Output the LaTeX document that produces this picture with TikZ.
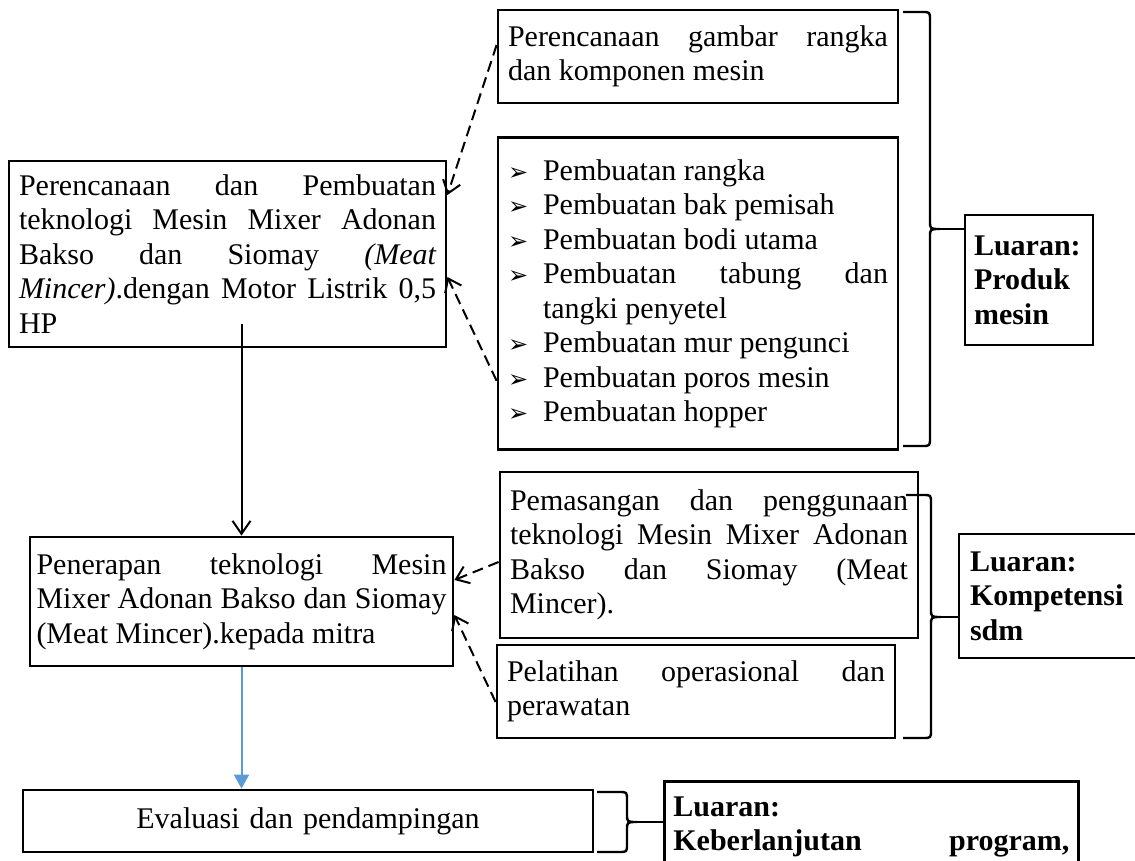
\documentclass[tikz,border=0pt]{standalone}
\usepackage{fontspec}
\setmainfont{Liberation Serif}
\newfontfamily\dejavu{DejaVu Sans}
\usetikzlibrary{positioning,arrows.meta,calc}
\definecolor{panahbiru}{HTML}{5B9BD5}
\setlength{\parindent}{0pt}
\newcommand\butir{\noindent\makebox[17.5pt][l]{{\dejavu\fontsize{12}{12}\selectfont ➢}}}
\tikzset{
  kotak/.style={draw, line width=1.4pt, inner xsep=5pt, inner ysep=0pt, align=justify,
                font=\fontsize{15}{17.25}\selectfont},
  luaran/.style={kotak, align=left, font=\fontsize{15}{17.25}\selectfont\bfseries},
  putus/.style={-{Straight Barb[length=6pt,width=9pt]}, dash pattern=on 5.5pt off 3pt, line width=1pt},
  panah/.style={-{Straight Barb[length=6.5pt,width=9pt]}, line width=1pt},
  biru/.style={-{Triangle[length=7pt,width=7.5pt]}, draw=panahbiru, line width=1pt},
  kurung/.style={line width=1.2pt, line join=round}
}
\begin{document}
\begin{tikzpicture}[x=0.5pt, y=-0.5pt]
\useasboundingbox (0,0) rectangle (1135,861);
\clip (0,0) rectangle (1135,861);
% kolom kiri
\node[kotak, text width=208.5pt, minimum height=93pt] (rencana) at (227.5,254)
  {Perencanaan dan Pembuatan\linebreak teknologi Mesin Mixer Adonan\linebreak Bakso dan Siomay \textit{(Meat\linebreak Mincer)}.dengan Motor Listrik 0,5\linebreak HP};
\node[kotak, text width=205pt, inner xsep=3.25pt, minimum height=64.5pt] (terap) at (241.5,601.5)
  {Penerapan teknologi Mesin\linebreak Mixer Adonan Bakso dan Siomay\linebreak (Meat Mincer).kepada mitra};
\node[kotak, align=center, text width=275pt, minimum height=31pt] (evaluasi) at (308,821)
  {Evaluasi dan pendampingan};
% kolom tengah
\node[kotak, text width=190pt, minimum height=46.5pt] (gambar) at (698,56.5)
  {Perencanaan gambar rangka\linebreak dan komponen mesin};
\node[kotak, text width=190pt, minimum height=156pt, below=16pt of gambar] (buat) {%
  \butir Pembuatan rangka\par
  \butir Pembuatan bak pemisah\par
  \butir Pembuatan bodi utama\par
  \hangindent=17.5pt\hangafter=1 \butir Pembuatan tabung dan\linebreak tangki penyetel\par
  \butir Pembuatan mur pengunci\par
  \butir Pembuatan poros mesin\par
  \butir Pembuatan hopper};
\node[kotak, text width=199pt, minimum height=83pt] (pasang) at (709,555)
  {Pemasangan dan penggunaan\linebreak teknologi Mesin Mixer Adonan\linebreak Bakso dan Siomay (Meat\linebreak Mincer).};
\node[kotak, text width=189pt, minimum height=46.5pt] (latih) at (696,691.5)
  {Pelatihan operasional dan\linebreak perawatan};
% luaran
\node[luaran, text width=55pt, inner xsep=4.5pt, minimum height=65pt] (hasil1) at (1029,280)
  {Luaran:\\ Produk\\ mesin};
\node[luaran, text width=84pt, inner xsep=5.5pt, minimum height=62pt] (hasil2) at (1054,596)
  {Luaran:\\ Kompetensi\\ sdm};
\node[luaran, align=justify, text width=198pt, inner xsep=4.5pt, inner ysep=7.5pt, anchor=north west] (hasil3) at (663,780)
  {Luaran:\\ Keberlanjutan\hspace{0pt plus 1filll}program,};
% panah
\draw[putus] ([yshift=5.75pt]gambar.west) -- ([yshift=29.5pt]rencana.east);
\draw[putus] ([yshift=-43.5pt]buat.west) -- ([yshift=-11.5pt]rencana.east);
\draw[panah] ([yshift=12pt]rencana.south -| terap.north) -- (terap.north);
\draw[putus] ([yshift=-3.5pt]pasang.west) -- ([yshift=10.75pt]terap.east);
\draw[putus] ([yshift=-5.25pt]latih.west) -- ([yshift=-6.75pt]terap.east);
\draw[biru] (terap.south) -- (terap.south |- evaluasi.north);
% kurung kurawal
\coordinate (k1) at (940,229);
\coordinate (k2) at (941,617);
\coordinate (k3) at (637,822);
\draw[kurung] (903,12) -- (922,12) .. controls (930,12) .. (930,20) -- (930,221) .. controls (930,229) .. (k1)
  .. controls (930,229) .. (930,237) -- (930,438) .. controls (930,446) .. (922,446) -- (903,446);
\draw[kurung] (906,495) -- (923,495) .. controls (931,495) .. (931,503) -- (931,609) .. controls (931,617) .. (k2)
  .. controls (931,617) .. (931,625) -- (931,730) .. controls (931,738) .. (923,738) -- (903,738);
\draw[kurung] (597,792) -- (619,792) .. controls (627,792) .. (627,800) -- (627,814) .. controls (627,822) .. (k3)
  .. controls (627,822) .. (627,830) -- (627,844) .. controls (627,852) .. (619,852) -- (597,852);
\draw[kurung] (k1) -- (k1 -| hasil1.west);
\draw[kurung] (k2) -- (k2 -| hasil2.west);
\draw[kurung] (k3) -- (k3 -| hasil3.west);
\end{tikzpicture}
\end{document}
